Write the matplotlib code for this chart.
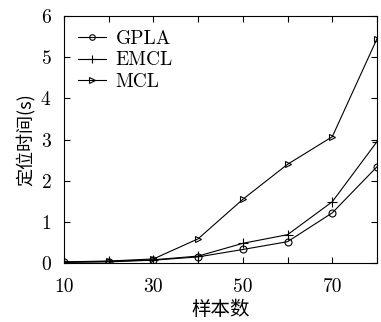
import matplotlib
matplotlib.use("Agg")
import matplotlib.pyplot as plt

samples = [10, 20, 30, 40, 50, 60, 70, 80]
gpla = [0.02, 0.03, 0.07, 0.15, 0.33, 0.52, 1.22, 2.34]
emcl = [0.02, 0.04, 0.08, 0.17, 0.48, 0.69, 1.49, 2.95]
mcl = [0.03, 0.05, 0.10, 0.59, 1.55, 2.40, 3.07, 5.45]

plt.rcParams["font.family"] = ["cmr10", "Noto Sans CJK SC"]
plt.rcParams["axes.formatter.use_mathtext"] = True

fig = plt.figure(figsize=(3.81, 3.22), dpi=100)
ax = fig.add_axes([0.168, 0.183, 0.8215, 0.767])

ax.plot(samples, gpla, color="black", lw=0.8, marker="o", ms=5,
        mfc="none", mew=0.8, label="GPLA")
ax.plot(samples, emcl, color="black", lw=0.8, marker="+", ms=7,
        mew=0.8, label="EMCL")
ax.plot(samples, mcl, color="black", lw=0.8, marker=">", ms=5,
        mfc="none", mew=0.8, label="MCL")

ax.set_xlim(10, 80)
ax.set_ylim(0, 6)
ax.set_xticks(range(10, 81, 10))
ax.set_xticklabels(["10", "", "30", "", "50", "", "70", ""])
ax.set_yticks(range(0, 7))
ax.tick_params(direction="in", top=True, right=True, labelsize=14,
               length=4, width=0.8)
ax.tick_params(axis="x", pad=11)
ax.tick_params(axis="y", pad=9)
for s in ax.spines.values():
    s.set_linewidth(0.8)

ax.set_xlabel("样本数", fontsize=14, family="Noto Sans CJK SC", labelpad=2)
ax.set_ylabel("定位时间(s)", fontsize=13, family="Noto Sans CJK SC", labelpad=4)

leg = ax.legend(loc="upper left", frameon=False, fontsize=14, handlelength=1.45,
                handletextpad=0.5, labelspacing=0.2, borderaxespad=0.3,
                markerscale=0.8)

fig.savefig("out.png", dpi=100)
